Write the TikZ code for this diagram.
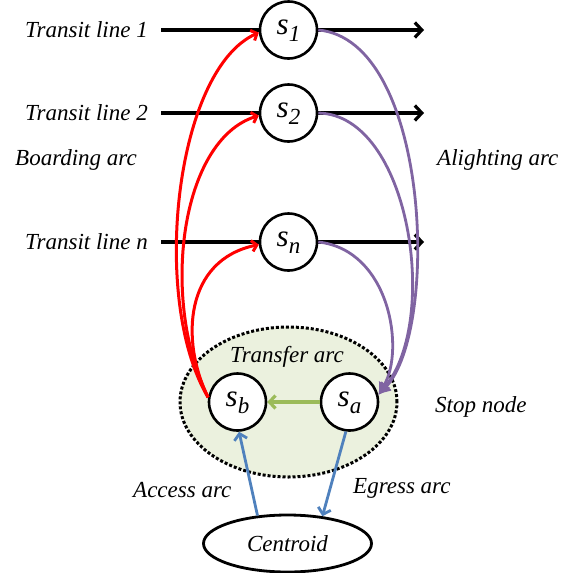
\documentclass[tikz,border=0pt]{standalone}
\usepackage{fontspec}
\setmainfont{Liberation Serif}
\usetikzlibrary{arrows.meta,shapes.geometric}
\definecolor{redarc}{RGB}{255,0,0}
\definecolor{purparc}{RGB}{128,100,162}
\definecolor{bluearc}{RGB}{79,129,189}
\definecolor{greenarc}{RGB}{155,187,89}
\definecolor{stopfill}{RGB}{235,241,222}
\newcommand{\stopname}[2]{\fontsize{31}{31}\selectfont\itshape #1\raisebox{-7pt}{\fontsize{23}{23}\selectfont\itshape #2}}
\begin{document}
\begin{tikzpicture}[x=1pt,y=-1pt,
  stn/.style={circle,draw=black,line width=2.6pt,fill=white,minimum size=57pt,inner sep=0pt},
  lbl/.style={font=\fontsize{23}{27}\selectfont\itshape,inner sep=0pt},
  transit/.style={line width=3.2pt,draw=black},
  blackarrow/.style={-{Straight Barb[length=7pt,width=15pt]}},
  boarding/.style={line width=3pt,draw=redarc,-{Straight Barb[length=5pt,width=11pt]}},
  alighting/.style={line width=2.8pt,draw=purparc,-{Latex[length=12pt,width=14pt]}},
  accessarc/.style={line width=2.8pt,draw=bluearc,-{Straight Barb[length=6pt,width=13pt]}},
  transferarc/.style={line width=3.2pt,draw=greenarc,-{Straight Barb[length=6pt,width=13pt]}},
]
\useasboundingbox (0,0) rectangle (571,573);
% stop node area
\node[ellipse,draw=black,fill=stopfill,line width=3pt,dotted,minimum width=217pt,minimum height=150pt,inner sep=0pt] (stop) at (288.5,402) {};
% centroid
\node[ellipse,draw=black,line width=2.8pt,fill=white,minimum width=168pt,minimum height=57pt,inner sep=0pt,font=\fontsize{23}{27}\selectfont\itshape] (cen) at (287.5,543.5) {Centroid};
% stations
\node[stn] (s1) at (288.5,30) {};
\node[stn] (s2) at (288.5,113) {};
\node[stn] (sn) at (288.5,242) {};
\node[stn] (sb) at (237.5,402) {};
\node[stn] (sa) at (349.5,402) {};
% transit lines
\coordinate (l1a) at (161,30); \coordinate (l1b) at (424,30);
\coordinate (l2a) at (161,113); \coordinate (l2b) at (424,113);
\coordinate (lna) at (161,242); \coordinate (lnb) at (424,242);
\draw[transit] (l1a) -- (s1.west);
\draw[transit,blackarrow] (s1.east) -- (l1b);
\draw[transit] (l2a) -- (s2.west);
\draw[transit,blackarrow] (s2.east) -- (l2b);
\draw[transit] (lna) -- (sn.west);
\draw[transit,blackarrow] (sn.east) -- (lnb);
% boarding arcs
\draw[boarding] (sb.171) .. controls (150,300) and (175,70) .. (s1.185);
\draw[boarding] (sb.171) .. controls (160,300) and (180,140) .. (s2.185);
\draw[boarding] (sb.171) .. controls (180,340) and (185,260) .. (sn.185);
% alighting arcs
\draw[alighting] (s1.east) .. controls (430,40) and (440,330) .. (sa.14);
\draw[alighting] (s2.east) .. controls (410,115) and (440,320) .. (sa.14);
\draw[alighting] (sn.east) .. controls (390,250) and (405,350) .. (sa.14);
% transfer, access, egress
\draw[transferarc] (sa.west) -- (sb.east);
\draw[accessarc] (cen.137) -- (sb.273);
\draw[accessarc] (sa.263) -- (cen.38);
% node labels
\node at (288.5,31) {\stopname{s}{1}};
\node at (288.5,114) {\stopname{s}{2}};
\node at (288.5,243) {\stopname{s}{n}};
\node at (237.5,403) {\stopname{s}{b}};
\node at (349.5,403) {\stopname{s}{a}};
% labels
\node[lbl,anchor=east] (t1) at (148,30) {Transit line 1};
\node[lbl,anchor=east] (t2) at (148,113) {Transit line 2};
\node[lbl,anchor=east] (tn) at (148,242) {Transit line n};
\node[lbl,anchor=west] (ba) at (15,160) {Boarding arc};
\node[lbl,anchor=west] (aa) at (437,160) {Alighting arc};
\node[lbl] (ta) at (287,357) {Transfer arc};
\node[lbl,anchor=west] (sn2) at (435,407) {Stop node};
\node[lbl,anchor=west] (ac) at (133,490) {Access arc};
\node[lbl,anchor=west] (eg) at (353,488) {Egress arc};
\end{tikzpicture}
\end{document}
